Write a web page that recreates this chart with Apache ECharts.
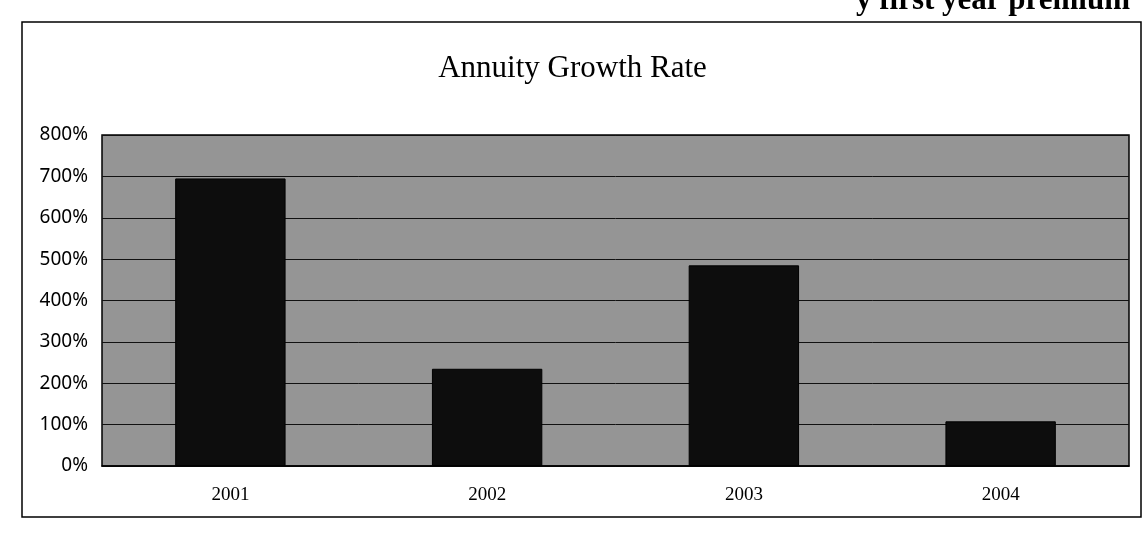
<!DOCTYPE html>
<html>
<head>
<meta charset="utf-8">
<script src="https://cdn.jsdelivr.net/npm/echarts@6/dist/echarts.min.js"></script>
<style>
  html, body { margin: 0; padding: 0; background: #fff; }
</style>
</head>
<body>
<div id="main" style="width: 1145px; height: 536px;"></div>
<script>
// values
const years = ['2001', '2002', '2003', '2004'];
const growthRate = [695, 235, 485, 108]; // percent
const yTicks = [0, 100, 200, 300, 400, 500, 600, 700, 800];

let chartDom = document.getElementById('main');
let myChart = echarts.init(chartDom);
let option = {
  animation: false,
  backgroundColor: '#fff',
  title: {
    text: 'Annuity Growth Rate',
    left: 'center',
    top: 48,
    textStyle: {
      fontFamily: 'Liberation Serif',
      fontSize: 31,
      fontWeight: 'normal',
      color: '#000'
    }
  },
  graphic: [
    {
      // outer frame of the pasted chart
      type: 'rect',
      shape: { x: 22, y: 22, width: 1119, height: 495 },
      style: { fill: 'none', stroke: '#000', lineWidth: 1.5 },
      z: 0
    },
    {
      // page heading cut off at the top of the scan
      type: 'text',
      left: 856,
      top: -15,
      style: {
        text: 'y first year premium',
        fontFamily: 'Liberation Serif',
        fontSize: 31,
        fontWeight: 'bold',
        fill: '#000'
      }
    }
  ],
  grid: {
    left: 102,
    right: 16,
    top: 135,
    bottom: 70,
    show: true,
    backgroundColor: '#959595',
    borderColor: '#000',
    borderWidth: 1.5
  },
  xAxis: {
    type: 'category',
    data: years,
    axisLine: { show: true, lineStyle: { color: '#000', width: 1.5 } },
    axisTick: { show: false },
    axisLabel: {
      margin: 20,
      fontFamily: 'Liberation Serif',
      fontSize: 19,
      color: '#000'
    }
  },
  yAxis: {
    type: 'value',
    min: yTicks[0],
    max: yTicks[yTicks.length - 1],
    interval: 100,
    axisLine: { show: false },
    axisTick: { show: false },
    splitLine: { show: true, lineStyle: { color: '#111', width: 1 } },
    axisLabel: {
      margin: 14,
      fontFamily: 'Noto Sans',
      fontSize: 19,
      color: '#000',
      formatter: '{value}%'
    }
  },
  series: [
    {
      type: 'bar',
      data: growthRate,
      barWidth: '43%',
      itemStyle: { color: '#0d0d0d', borderColor: '#000', borderWidth: 1 }
    }
  ]
};
option && myChart.setOption(option);
</script>
</body>
</html>
